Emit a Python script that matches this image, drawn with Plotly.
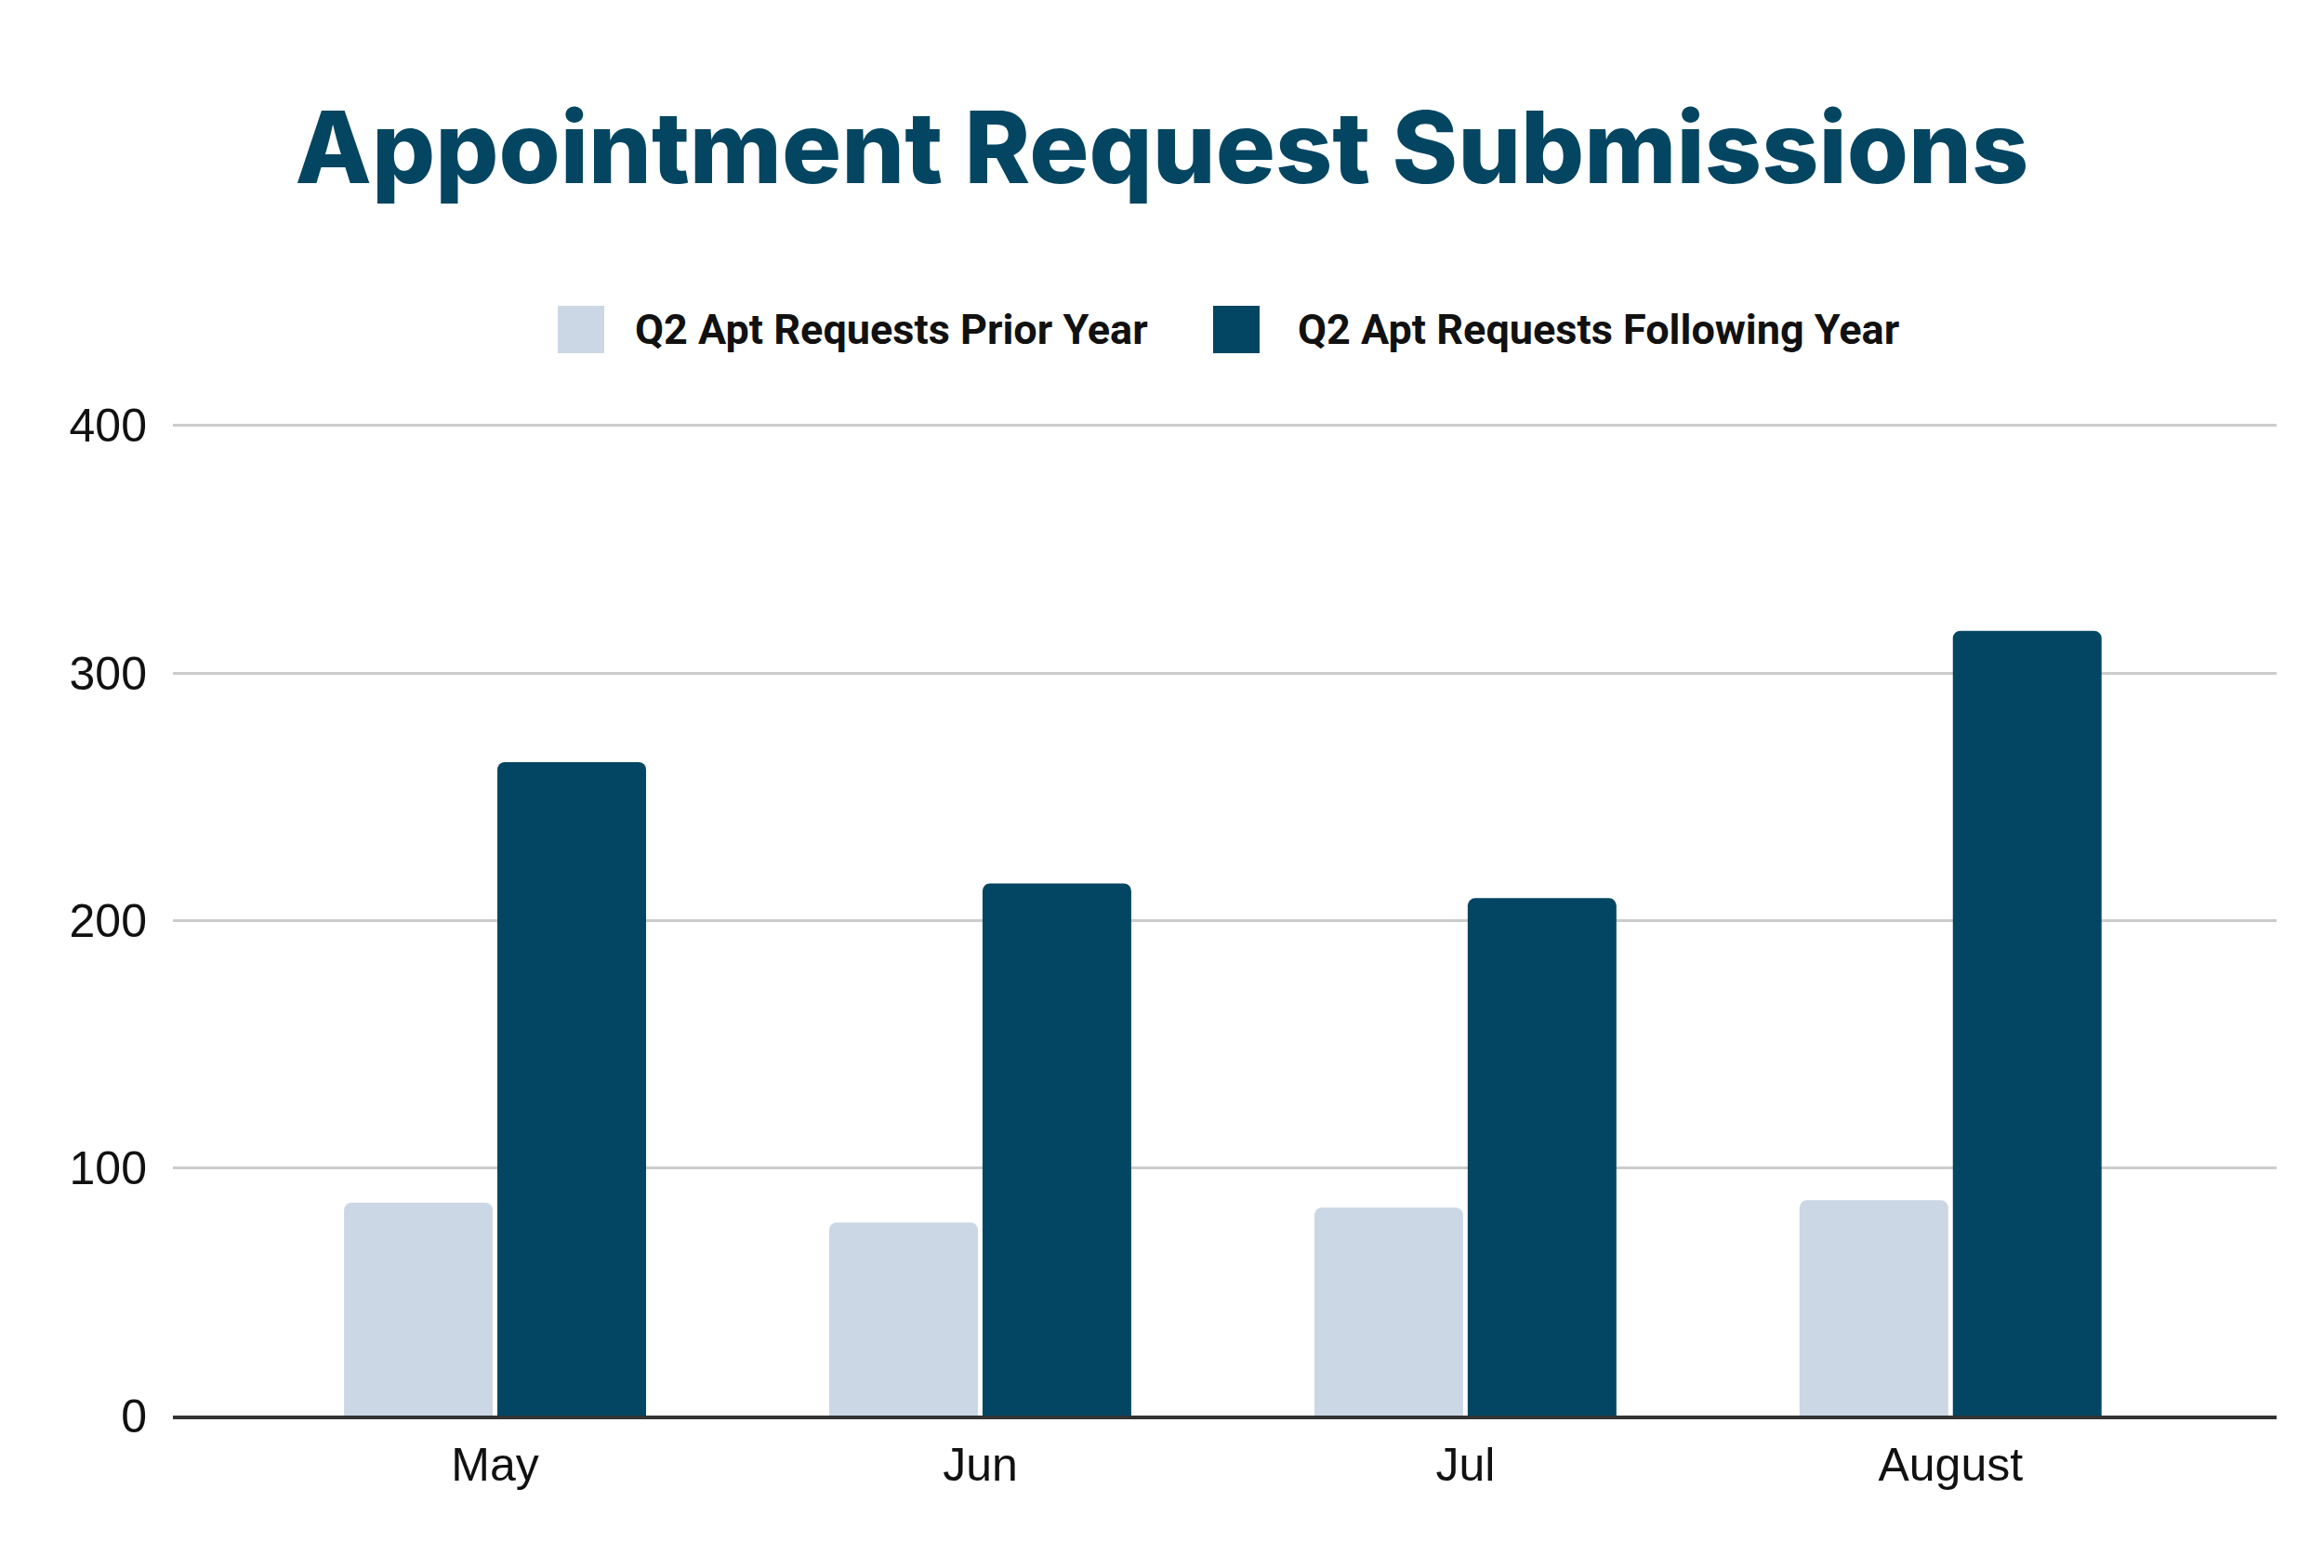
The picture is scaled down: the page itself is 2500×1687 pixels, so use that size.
import plotly.graph_objects as go

months = ["May", "Jun", "Jul", "August"]
series_names = ["Q2 Apt Requests Prior Year", "Q2 Apt Requests Following Year"]
prior_year = [86, 78, 84, 87]
following_year = [264, 215, 209, 317]
y_ticks = [0, 100, 200, 300, 400]

LIGHT = "#CBD7E4"
DARK = "#034663"

# page is 2500x1687; the html body adds an 8px margin around the figure
OFF = 8
W, H = 2500 - 2 * OFF, 1687 - 2 * OFF
YMAX = 401
# target page-pixel plot frame: x 186..2449, y 455..1523
L, T = 186 - OFF, 455 - OFF
R = (2500 - OFF) - 2449
B = (1687 - OFF) - 1523
PW, PH = W - L - R, H - T - B

def px_x(x):
    return (x - OFF - L) / PW

def px_y(y):
    return (T + PH - (y - OFF)) / PH

fig = go.Figure()
fig.add_trace(go.Bar(x=months, y=prior_year, name=series_names[0],
                     marker=dict(color=LIGHT, cornerradius=8, line=dict(width=0))))
fig.add_trace(go.Bar(x=months, y=following_year, name=series_names[1],
                     marker=dict(color=DARK, cornerradius=8, line=dict(width=0))))

# manual legend
legend_items = [
    (series_names[0], LIGHT, 600, 681),
    (series_names[1], DARK, 1305, 1394),
]
shapes = []
annotations = []
for name, col, sx, tx in legend_items:
    shapes.append(dict(type="rect", xref="paper", yref="paper",
                       x0=px_x(sx), x1=px_x(sx + 50), y0=px_y(380), y1=px_y(329),
                       fillcolor=col, line=dict(width=0), layer="above"))
    annotations.append(dict(text=name, xref="paper", yref="paper",
                            x=px_x(tx), y=px_y(354), xanchor="left", yanchor="middle",
                            showarrow=False,
                            font=dict(family="Roboto", size=45, color="#111111", weight=700)))

fig.update_layout(
    width=W, height=H,
    margin=dict(l=L, r=R, t=T, b=B),
    paper_bgcolor="white", plot_bgcolor="white",
    showlegend=False,
    barmode="group", bargap=0.368, bargroupgap=0.03,
    title=dict(text="Appointment Request Submissions", x=0.5, xanchor="center",
               y=1 - (160 - OFF) / H, yanchor="middle", yref="container",
               font=dict(family="Inter", size=107, color="#044662", weight=800)),
    shapes=shapes,
    annotations=annotations,
    xaxis=dict(range=[-0.664, 3.672], showline=True, linecolor="#333333", linewidth=4,
               ticks="", tickfont=dict(family="Liberation Sans", size=50, color="#111111"),
               ticklabelstandoff=6, showgrid=False),
    yaxis=dict(range=[0, YMAX], tickvals=y_ticks, showgrid=True, gridcolor="#CCCCCC",
               gridwidth=3, zeroline=False, ticks="",
               tickfont=dict(family="Liberation Sans", size=50, color="#111111"),
               ticklabelstandoff=27),
)

fig.write_html("out.html")
